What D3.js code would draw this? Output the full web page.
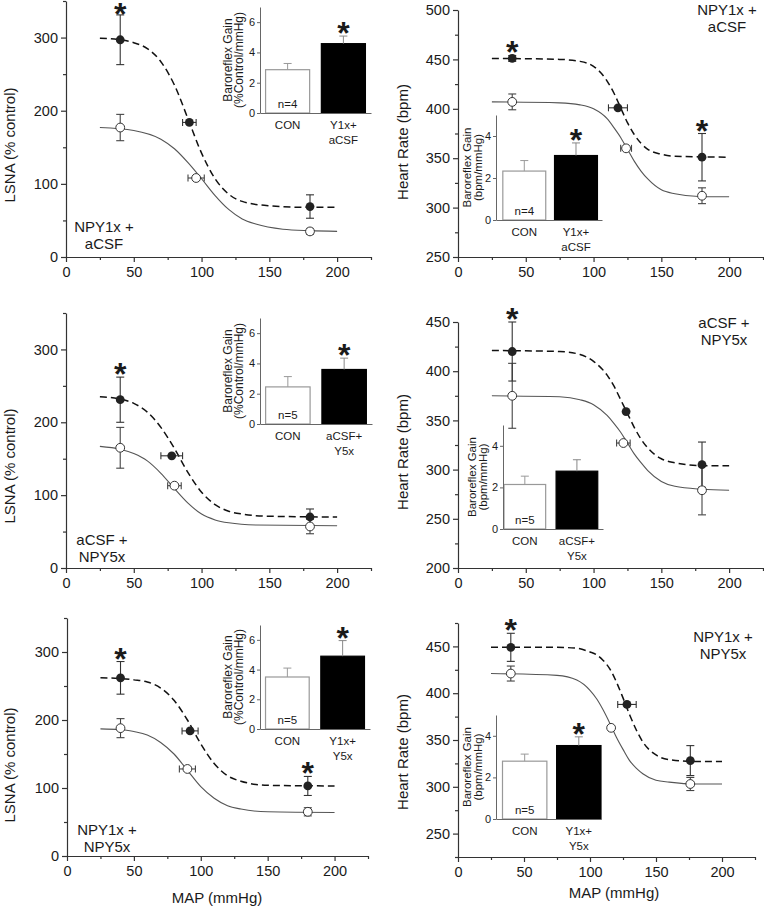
<!DOCTYPE html>
<html>
<head>
<meta charset="utf-8">
<script src="https://cdn.jsdelivr.net/npm/d3@7"></script>
<style>
  body { margin: 0; background: #fff; }
  svg text { font-family: "Liberation Sans", Arial, sans-serif; fill: #1a1a1a; }
  .axis path, .axis line { stroke: #333; stroke-width: 1.2; }
  .axis text { font-size: 14.5px; fill: #1a1a1a; }
  .minor path { display: none; }
  .inset path, .inset line { stroke: #666; stroke-width: 1; }
  .inset .tick text { font-size: 11px; }
</style>
</head>
<body>
<svg id="chart" width="764" height="909"></svg>
<script>
// axis ticks
var mapTicks = [0, 50, 100, 150, 200];
var mapMinorTicks = [25, 75, 125, 175, 225];
var lsnaTicks = [0, 100, 200, 300];
var lsnaMinorTicks = [50, 150, 250, 350];
var hrTicksTop = [250, 300, 350, 400, 450, 500];
var hrMinorTop = [275, 325, 375, 425, 475];
var hrTicksMid = [200, 250, 300, 350, 400, 450];
var hrMinorMid = [225, 275, 325, 375, 425];
var hrTicksBot = [250, 300, 350, 400, 450];
var hrMinorBot = [225, 275, 325, 375, 425, 475];
var gainTicksLsna = [0, 2, 4, 6];
var gainTicksHr = [0, 2, 4];

// points: [MAP, value, y error, x error]
// NPY1x + aCSF
var lsnaY1aCon  = [[40, 177, 18, 0], [96, 108, 0, 6], [180, 35, 4, 0]];
var lsnaY1aDrug = [[40, 297, 34, 0], [91, 184, 0, 5], [180, 69, 16, 0]];
var hrY1aCon    = [[40, 407, 8, 0], [124, 360, 0, 4], [180, 312, 8, 0]];
var hrY1aDrug   = [[40, 451, 3, 0], [118, 401, 0, 7], [180, 351, 24, 0]];
// aCSF + NPY5x
var lsnaY5Con   = [[40, 165, 28, 0], [80, 113, 0, 5], [180, 57, 10, 0]];
var lsnaY5Drug  = [[40, 231, 31, 0], [78, 154, 0, 8], [180, 70, 11, 0]];
var hrY5Con     = [[40, 375, 33, 0], [122, 327, 0, 5], [180, 279, 25, 0]];
var hrY5Drug    = [[40, 420, 30, 0], [124, 359, 0, 0], [180, 305, 23, 0]];
// NPY1x + NPY5x
var lsnaY15Con  = [[40, 188, 14, 0], [90, 128, 0, 6], [180, 65, 6, 0]];
var lsnaY15Drug = [[40, 262, 24, 0], [92, 184, 0, 6], [180, 103, 14, 0]];
var hrY15Con    = [[40, 421, 8, 0], [116, 363, 0, 0], [176, 303, 7, 0]];
var hrY15Drug   = [[40, 449, 15, 0], [128, 388, 0, 7], [176, 328, 16, 0]];

// which drug points carry a star (index)
var lsnaY1aStars = [0];
var hrY1aStars = [0, 2];
var lsnaY5Stars = [0];
var hrY5Stars = [0];
var lsnaY15Stars = [0, 2];
var hrY15Stars = [0];

// fitted sigmoid curves: [MAP, value]
var lsnaY1aConFit  = [[25,177],[50,173],[70,161],[80,148],[90,129],[100,107],[110,84],[120,65],[130,52],[140,45],[160,38],[180,36],[200,35]];
var lsnaY1aDrugFit = [[25,299],[40,297],[50,293],[60,285],[70,267],[80,235],[90,189],[100,142],[110,107],[120,86],[130,76],[150,70],[175,68],[200,68]];
var hrY1aConFit    = [[25,407],[75,406],[90,404],[100,400],[110,390],[115,381],[120,371],[125,359],[130,347],[135,337],[140,329],[150,318],[160,314],[180,311],[200,311]];
var hrY1aDrugFit   = [[25,451],[75,450],[90,448],[100,443],[105,437],[110,428],[115,416],[120,401],[125,386],[130,374],[135,365],[140,359],[150,354],[160,352],[200,351]];
var lsnaY5ConFit   = [[25,167],[40,163],[50,157],[60,147],[70,130],[80,109],[90,89],[100,74],[110,66],[120,62],[140,59],[200,58]];
var lsnaY5DrugFit  = [[25,235],[40,232],[50,226],[60,214],[70,193],[80,164],[90,131],[100,104],[110,87],[120,78],[130,74],[150,71],[200,70]];
var hrY5ConFit     = [[25,375],[75,374],[90,371],[100,366],[110,355],[115,347],[120,338],[125,327],[130,316],[135,307],[140,299],[150,288],[160,283],[180,280],[200,279]];
var hrY5DrugFit    = [[25,421],[75,420],[90,417],[100,410],[110,396],[115,385],[120,371],[125,357],[130,343],[135,331],[140,322],[150,311],[160,307],[180,304],[200,304]];
var lsnaY15ConFit  = [[25,187],[40,186],[50,183],[60,178],[70,167],[80,150],[90,126],[100,102],[110,85],[120,74],[130,69],[150,65],[200,64]];
var lsnaY15DrugFit = [[25,262],[40,261],[50,259],[60,256],[70,247],[80,229],[90,200],[100,165],[110,136],[120,118],[130,110],[150,104],[200,103]];
var hrY15ConFit    = [[25,421],[75,419],[90,414],[100,403],[105,394],[110,382],[115,368],[120,353],[125,340],[130,328],[135,320],[140,314],[150,307],[160,305],[180,303],[200,303]];
var hrY15DrugFit   = [[25,449],[75,449],[90,448],[100,444],[105,441],[110,435],[115,426],[120,412],[125,395],[130,377],[135,361],[140,348],[150,334],[160,329],[180,327],[200,327]];

// inset bar charts: baroreflex gain [CON, treated] and SEM
var gainLsnaY1a = [2.86, 4.58], gainLsnaY1aErr = [0.41, 0.5];
var gainHrY1a   = [2.33, 3.07], gainHrY1aErr   = [0.5, 0.6];
var gainLsnaY5  = [2.45, 3.6],  gainLsnaY5Err  = [0.68, 0.75];
var gainHrY5    = [2.14, 2.78], gainHrY5Err    = [0.4, 0.55];
var gainLsnaY15 = [3.5, 4.9],   gainLsnaY15Err = [0.6, 1.05];
var gainHrY15   = [2.78, 3.53], gainHrY15Err   = [0.34, 0.42];
var catsY1a = [["CON"], ["Y1x+", "aCSF"]];
var catsY5a = [["CON"], ["aCSF+", "Y5x"]];
var catsY15 = [["CON"], ["Y1x+", "Y5x"]];

var lsnaTitle = "LSNA (% control)";
var hrTitle = "Heart Rate (bpm)";
var gainLabelLsna = ["Baroreflex Gain", "(%Control/mmHg)"];
var gainLabelHr = ["Baroreflex Gain", "(bpm/mmHg)"];

// layout of the six panels
var panels = [
  { x0: 66, x1: 371, yb: 257, yt: 1, ydom: [0, 350], ticks: lsnaTicks, minor: lsnaMinorTicks,
    title: lsnaTitle, tx: 15, ty: 145, con: lsnaY1aCon, drug: lsnaY1aDrug,
    conFit: lsnaY1aConFit, drugFit: lsnaY1aDrugFit, stars: lsnaY1aStars,
    label: ["NPY1x +", "aCSF"], lx: 104, ly: 232,
    inset: { ox: 260, oy: 113, top: 7, right: 371, max: 7, pi: 0.21, po: 0.1, align: 0.5, lab: 28, fs: 12 },
    gTicks: gainTicksLsna, gain: gainLsnaY1a, gainErr: gainLsnaY1aErr, gainStar: true,
    cats: catsY1a, n: "n=4", gLabel: gainLabelLsna },
  { x0: 458, x1: 763, yb: 257, yt: 10, ydom: [250, 500], ticks: hrTicksTop, minor: hrMinorTop,
    title: hrTitle, tx: 408, ty: 142, con: hrY1aCon, drug: hrY1aDrug,
    conFit: hrY1aConFit, drugFit: hrY1aDrugFit, stars: hrY1aStars,
    label: ["NPY1x +", "aCSF"], lx: 727, ly: 15,
    inset: { ox: 496, oy: 220, top: 115, right: 602, max: 5, pi: 0.17, po: 0.11, align: 0.6, lab: 25, fs: 11.5 },
    gTicks: gainTicksHr, gain: gainHrY1a, gainErr: gainHrY1aErr, gainStar: true,
    cats: catsY1a, n: "n=4", gLabel: gainLabelHr },
  { x0: 66, x1: 371, yb: 568, yt: 313, ydom: [0, 350], ticks: lsnaTicks, minor: lsnaMinorTicks,
    title: lsnaTitle, tx: 15, ty: 466, con: lsnaY5Con, drug: lsnaY5Drug,
    conFit: lsnaY5ConFit, drugFit: lsnaY5DrugFit, stars: lsnaY5Stars,
    label: ["aCSF +", "NPY5x"], lx: 102, ly: 545,
    inset: { ox: 260, oy: 424, top: 318, right: 372, max: 7, pi: 0.21, po: 0.1, align: 0.5, lab: 28, fs: 12 },
    gTicks: gainTicksLsna, gain: gainLsnaY5, gainErr: gainLsnaY5Err, gainStar: true,
    cats: catsY5a, n: "n=5", gLabel: gainLabelLsna },
  { x0: 458, x1: 763, yb: 568, yt: 322, ydom: [200, 450], ticks: hrTicksMid, minor: hrMinorMid,
    title: hrTitle, tx: 408, ty: 452, con: hrY5Con, drug: hrY5Drug,
    conFit: hrY5ConFit, drugFit: hrY5DrugFit, stars: hrY5Stars,
    label: ["aCSF +", "NPY5x"], lx: 724, ly: 328,
    inset: { ox: 503, oy: 529, top: 425, right: 603, max: 5, pi: 0.2, po: 0.06, align: 0.16, lab: 27, fs: 11.5 },
    gTicks: gainTicksHr, gain: gainHrY5, gainErr: gainHrY5Err, gainStar: false,
    cats: catsY5a, n: "n=5", gLabel: gainLabelHr },
  { x0: 67, x1: 368, yb: 856, yt: 618, ydom: [0, 350], ticks: lsnaTicks, minor: lsnaMinorTicks,
    title: lsnaTitle, tx: 15, ty: 765, con: lsnaY15Con, drug: lsnaY15Drug,
    conFit: lsnaY15ConFit, drugFit: lsnaY15DrugFit, stars: lsnaY15Stars,
    label: ["NPY1x +", "NPY5x"], lx: 107, ly: 835,
    inset: { ox: 260, oy: 729, top: 625, right: 370, max: 7, pi: 0.21, po: 0.1, align: 0.5, lab: 28, fs: 12 },
    gTicks: gainTicksLsna, gain: gainLsnaY15, gainErr: gainLsnaY15Err, gainStar: true,
    cats: catsY15, n: "n=5", gLabel: gainLabelLsna, mapX: 217, mapY: 903 },
  { x0: 458, x1: 755, yb: 857, yt: 623, ydom: [225, 475], ticks: hrTicksBot, minor: hrMinorBot,
    title: hrTitle, tx: 408, ty: 752, con: hrY15Con, drug: hrY15Drug,
    conFit: hrY15ConFit, drugFit: hrY15DrugFit, stars: hrY15Stars,
    label: ["NPY1x +", "NPY5x"], lx: 723, ly: 642,
    inset: { ox: 496, oy: 819, top: 715, right: 601, max: 5, pi: 0.18, po: 0.06, align: 1, lab: 25, fs: 11.5 },
    gTicks: gainTicksHr, gain: gainHrY15, gainErr: gainHrY15Err, gainStar: true,
    cats: catsY15, n: "n=5", gLabel: gainLabelHr, mapX: 614, mapY: 898 }
];

var svg = d3.select("#chart");

function addStar(g, cx, cy) {
	// cy = visual centre of the asterisk
	g.append("text")
		.attr("x", cx)
		.attr("y", cy + 18)
		.attr("text-anchor", "middle")
		.style("font-size", "32px")
		.style("font-weight", "bold")
		.text("*");
}

function drawErrors(g, pts, x, y, color) {
	var vert = pts.filter(function(d){ return d[2] > 0; });
	var horiz = pts.filter(function(d){ return d[3] > 0; });
	var eg = g.append("g").attr("stroke", color).attr("stroke-width", 1.1);

	eg.selectAll("line.v").data(vert).join("line")
		.attr("x1", function(d){ return x(d[0]); })
		.attr("x2", function(d){ return x(d[0]); })
		.attr("y1", function(d){ return y(d[1] - d[2]); })
		.attr("y2", function(d){ return y(d[1] + d[2]); });
	[-1, 1].forEach(function(s){
		eg.selectAll("line.cap" + s).data(vert).join("line")
			.attr("x1", function(d){ return x(d[0]) - 4; })
			.attr("x2", function(d){ return x(d[0]) + 4; })
			.attr("y1", function(d){ return y(d[1] + s * d[2]); })
			.attr("y2", function(d){ return y(d[1] + s * d[2]); });
	});

	eg.selectAll("line.h").data(horiz).join("line")
		.attr("x1", function(d){ return x(d[0] - d[3]); })
		.attr("x2", function(d){ return x(d[0] + d[3]); })
		.attr("y1", function(d){ return y(d[1]); })
		.attr("y2", function(d){ return y(d[1]); });
	[-1, 1].forEach(function(s){
		eg.selectAll("line.hcap" + s).data(horiz).join("line")
			.attr("x1", function(d){ return x(d[0] + s * d[3]); })
			.attr("x2", function(d){ return x(d[0] + s * d[3]); })
			.attr("y1", function(d){ return y(d[1]) - 3.5; })
			.attr("y2", function(d){ return y(d[1]) + 3.5; });
	});
}

panels.forEach(function(p){
	var g = svg.append("g");

	var x = d3.scaleLinear().domain([0, 225]).range([p.x0, p.x1]);
	var y = d3.scaleLinear().domain(p.ydom).range([p.yb, p.yt]);

	//x axis
	g.append("g").attr("class", "axis")
		.attr("transform", "translate(0," + p.yb + ")")
		.call(d3.axisBottom(x).tickValues(mapTicks).tickSize(5).tickSizeOuter(0).tickPadding(5));
	g.append("g").attr("class", "axis minor")
		.attr("transform", "translate(0," + p.yb + ")")
		.call(d3.axisBottom(x).tickValues(mapMinorTicks).tickSize(3).tickFormat(""));

	//y axis
	g.append("g").attr("class", "axis")
		.attr("transform", "translate(" + p.x0 + ",0)")
		.call(d3.axisLeft(y).tickValues(p.ticks).tickSize(5).tickSizeOuter(0).tickPadding(3));
	g.append("g").attr("class", "axis minor")
		.attr("transform", "translate(" + p.x0 + ",0)")
		.call(d3.axisLeft(y).tickValues(p.minor).tickSize(3).tickFormat(""));

	g.append("text")
		.attr("transform", "translate(" + p.tx + "," + p.ty + ") rotate(-90)")
		.attr("text-anchor", "middle")
		.style("font-size", "15px")
		.text(p.title);

	if (p.mapX) {
		g.append("text")
			.attr("x", p.mapX).attr("y", p.mapY)
			.attr("text-anchor", "middle")
			.style("font-size", "15px")
			.text("MAP (mmHg)");
	}

	//panel label
	p.label.forEach(function(t, i){
		g.append("text")
			.attr("x", p.lx).attr("y", p.ly + i * 16.5)
			.attr("text-anchor", "middle")
			.style("font-size", "15px")
			.text(t);
	});

	//sigmoid fits
	var line = d3.line()
		.x(function(d){ return x(d[0]); })
		.y(function(d){ return y(d[1]); })
		.curve(d3.curveMonotoneX);
	g.append("path").datum(p.conFit)
		.attr("d", line).attr("fill", "none")
		.attr("stroke", "#555").attr("stroke-width", 1.1);
	g.append("path").datum(p.drugFit)
		.attr("d", line).attr("fill", "none")
		.attr("stroke", "#111").attr("stroke-width", 1.5)
		.attr("stroke-dasharray", "7,4");

	drawErrors(g, p.con, x, y, "#444");
	drawErrors(g, p.drug, x, y, "#333");

	g.selectAll("circle.con").data(p.con).join("circle")
		.attr("cx", function(d){ return x(d[0]); })
		.attr("cy", function(d){ return y(d[1]); })
		.attr("r", 4.4)
		.attr("fill", "#fff").attr("stroke", "#333").attr("stroke-width", 1);
	g.selectAll("circle.drug").data(p.drug).join("circle")
		.attr("cx", function(d){ return x(d[0]); })
		.attr("cy", function(d){ return y(d[1]); })
		.attr("r", 4.4)
		.attr("fill", "#222");

	p.stars.forEach(function(i){
		var d = p.drug[i];
		addStar(g, x(d[0]), Math.max(y(d[1] + d[2]) - 10, 7));
	});

	//inset bar chart
	var ins = p.inset;
	var catNames = p.cats.map(function(c){ return c.join(" "); });
	var gx = d3.scaleBand().domain(catNames)
		.range([ins.ox, ins.right])
		.paddingInner(ins.pi).paddingOuter(ins.po).align(ins.align);
	var gy = d3.scaleLinear().domain([0, ins.max]).range([ins.oy, ins.top]);
	var ig = g.append("g").attr("class", "inset");

	ig.selectAll("rect").data(p.gain).join("rect")
		.attr("x", function(d, i){ return gx(catNames[i]); })
		.attr("y", function(d){ return gy(d); })
		.attr("width", gx.bandwidth())
		.attr("height", function(d){ return gy(0) - gy(d); })
		.attr("fill", function(d, i){ return i ? "#000" : "#fff"; })
		.attr("stroke", function(d, i){ return i ? "#000" : "#999"; })
		.attr("stroke-width", 1.2);

	p.gain.forEach(function(v, i){
		var cx = gx(catNames[i]) + gx.bandwidth() / 2;
		var top = gy(v + p.gainErr[i]);
		var col = i ? "#888" : "#999";
		ig.append("line").attr("x1", cx).attr("x2", cx)
			.attr("y1", gy(v)).attr("y2", top).style("stroke", col);
		ig.append("line").attr("x1", cx - 4).attr("x2", cx + 4)
			.attr("y1", top).attr("y2", top).style("stroke", col);
		p.cats[i].forEach(function(t, j){
			ig.append("text")
				.attr("x", cx).attr("y", ins.oy + 16 + j * 15)
				.attr("text-anchor", "middle")
				.style("font-size", "11.5px")
				.text(t);
		});
		if (i && p.gainStar) addStar(ig, cx, top - 10);
	});

	ig.append("text")
		.attr("x", gx(catNames[0]) + gx.bandwidth() / 2)
		.attr("y", ins.oy - 5)
		.attr("text-anchor", "middle")
		.style("font-size", "11.5px")
		.text(p.n);

	ig.append("g")
		.attr("transform", "translate(0," + ins.oy + ")")
		.call(d3.axisBottom(gx).tickSize(0).tickFormat(""));
	ig.append("g")
		.attr("transform", "translate(" + ins.ox + ",0)")
		.call(d3.axisLeft(gy).tickValues(p.gTicks).tickFormat(d3.format("d"))
			.tickSize(3).tickSizeOuter(0).tickPadding(2));

	p.gLabel.forEach(function(t, j){
		ig.append("text")
			.attr("transform", "translate(" + (ins.ox - ins.lab + j * 10.5) + "," + ((ins.oy + ins.top) / 2) + ") rotate(-90)")
			.attr("text-anchor", "middle")
			.style("font-size", ins.fs + "px")
			.text(t);
	});
});
</script>
</body>
</html>
